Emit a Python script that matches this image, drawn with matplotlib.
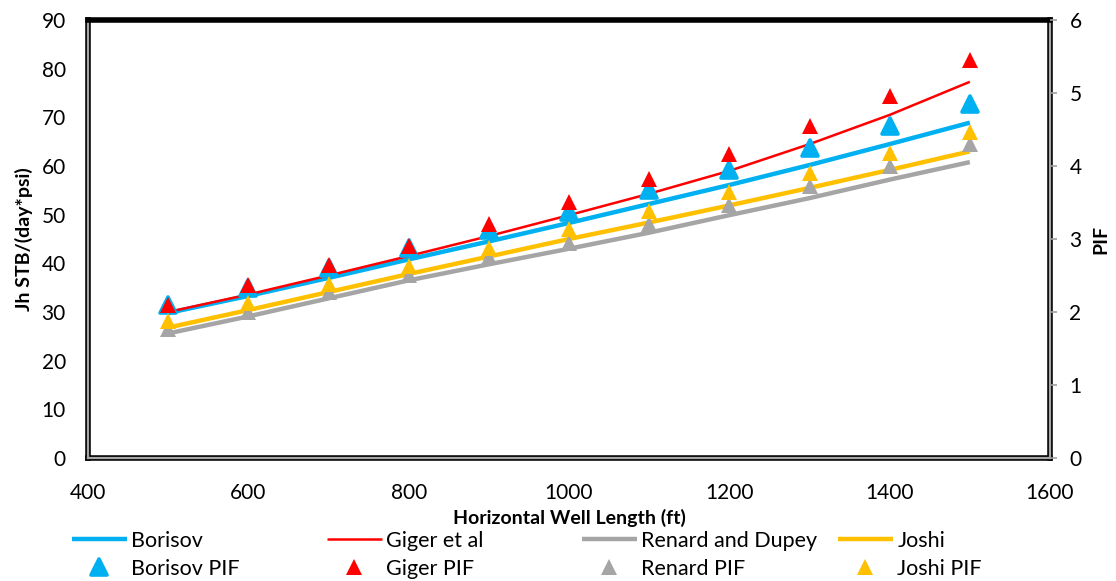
import matplotlib
matplotlib.use("Agg")
import matplotlib.pyplot as plt
from matplotlib.markers import MarkerStyle

plt.rcParams['font.family'] = ['Lato', 'DejaVu Sans']

# ---- data ----
length_ft = [500, 600, 700, 800, 900, 1000, 1100, 1200, 1300, 1400, 1500]

borisov = [29.8, 33.3, 37.0, 40.8, 44.5, 48.3, 52.2, 56.1, 60.2, 64.5, 68.9]
giger = [30.0, 33.6, 37.5, 41.5, 45.6, 49.9, 54.3, 59.0, 64.5, 70.5, 77.3]
renard = [25.6, 29.1, 32.8, 36.5, 39.8, 43.0, 46.3, 49.9, 53.4, 57.2, 60.8]
joshi = [26.8, 30.4, 34.1, 37.8, 41.4, 45.0, 48.4, 51.9, 55.5, 59.2, 63.0]

borisov_pif = [2.09, 2.33, 2.60, 2.87, 3.13, 3.37, 3.67, 3.95, 4.25, 4.55, 4.85]
giger_pif = [2.09, 2.37, 2.64, 2.91, 3.20, 3.51, 3.82, 4.16, 4.55, 4.96, 5.45]
renard_pif = [1.77, 2.00, 2.27, 2.51, 2.75, 2.95, 3.21, 3.47, 3.73, 4.00, 4.30]
joshi_pif = [1.87, 2.13, 2.38, 2.63, 2.88, 3.14, 3.39, 3.65, 3.91, 4.18, 4.46]

x_ticks = [400, 600, 800, 1000, 1200, 1400, 1600]
y_ticks = [0, 10, 20, 30, 40, 50, 60, 70, 80, 90]
y2_ticks = [0, 1, 2, 3, 4, 5, 6]

C_BLUE = '#00B0F0'
C_RED = '#FF0000'
C_GRAY = '#A5A5A5'
C_YEL = '#FFC000'

W, H = 1116, 581
fig = plt.figure(figsize=(W / 100, H / 100), dpi=100)
ax = fig.add_axes([88 / W, 1 - 458 / H, (1050 - 88) / W, (458 - 20) / H])
ax2 = ax.twinx()

l1, = ax.plot(length_ft, borisov, color=C_BLUE, lw=3.2, solid_capstyle='butt', label='Borisov')
l2, = ax.plot(length_ft, giger, color=C_RED, lw=1.8, solid_capstyle='butt', label='Giger et al')
l3, = ax.plot(length_ft, renard, color=C_GRAY, lw=3.2, solid_capstyle='butt', label='Renard and Dupey')
l4, = ax.plot(length_ft, joshi, color=C_YEL, lw=3.2, solid_capstyle='butt', label='Joshi')

round_tri = MarkerStyle('^', joinstyle='round')
m1, = ax2.plot(length_ft, borisov_pif, ls='none', marker=round_tri, ms=12, color=C_BLUE,
               mec=C_BLUE, mew=2.6, label='Borisov PIF')
m2, = ax2.plot(length_ft, giger_pif, ls='none', marker='^', ms=11.5, color=C_RED, mew=0, label='Giger PIF')
m3, = ax2.plot(length_ft, renard_pif, ls='none', marker='^', ms=11.5, color=C_GRAY, mew=0, label='Renard PIF')
m4, = ax2.plot(length_ft, joshi_pif, ls='none', marker='^', ms=11.5, color=C_YEL, mew=0, label='Joshi PIF')

ax.set_xlim(400, 1600)
ax.set_ylim(0, 90)
ax2.set_ylim(0, 6)
ax.set_xticks(x_ticks)
ax.set_yticks(y_ticks)
ax2.set_yticks(y2_ticks)

ax.tick_params(axis='x', length=0, pad=18, labelsize=15)
ax.tick_params(axis='y', length=0, pad=16, labelsize=15)
ax2.tick_params(axis='y', length=5, width=1.2, color='#A0A0A0', pad=9, labelsize=15)

for a in (ax, ax2):
    for s in a.spines.values():
        s.set_visible(False)

# frame: black outer lines with gray inner line, thick black top
tr = ax.transAxes
kw = dict(transform=tr, clip_on=False, solid_capstyle='projecting', zorder=5)
ax.plot([0, 0], [0, 1], color='black', lw=4, **kw)
ax.plot([1, 1], [0, 1], color='black', lw=4, **kw)
ax.plot([0, 1], [0, 0], color='black', lw=4, **kw)
ax.plot([0, 0], [0, 1], color='#A6A6A6', lw=1.6, **kw)
ax.plot([1, 1], [0, 1], color='#A6A6A6', lw=1.6, **kw)
ax.plot([0, 1], [0, 0], color='#A6A6A6', lw=1.6, **kw)
ax.plot([0, 1], [1, 1], color='black', lw=4, **kw)

ax.set_xlabel('Horizontal Well Length (ft)', fontsize=14, fontweight='bold', labelpad=4)
ax.set_ylabel('Jh STB/(day*psi)', fontsize=14, fontweight='bold', labelpad=6)
ax2.set_ylabel('PIF', fontsize=14, fontweight='bold', labelpad=8)

# legend: four columns, each a line + its PIF marker
pairs = [(l1, m1), (l2, m2), (l3, m3), (l4, m4)]
xs = [72, 327, 582, 838]
for (ln, mk), x0 in zip(pairs, xs):
    fig.legend(handles=[ln, mk], loc='upper left', bbox_to_anchor=(x0 / W, 1 - 531 / H),
               frameon=False, fontsize=15.5, handlelength=2.55, handletextpad=0.2,
               borderpad=0, borderaxespad=0, labelspacing=0.35, numpoints=1)

fig.savefig('out.png', dpi=100)
